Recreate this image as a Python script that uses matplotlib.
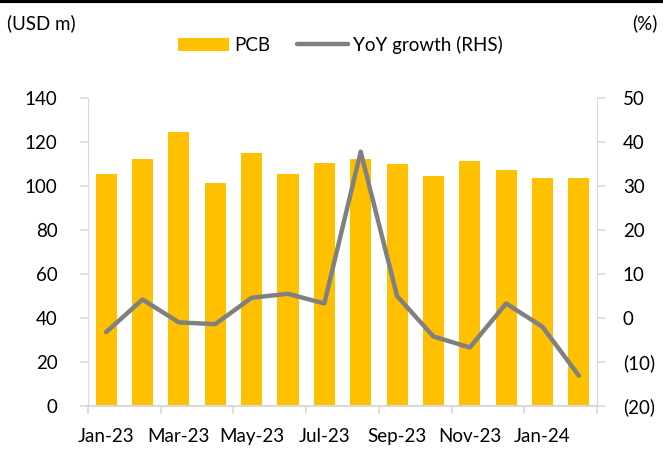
import matplotlib.pyplot as plt
from matplotlib.lines import Line2D
import numpy as np

plt.rcParams['font.family'] = ['Lato', 'DejaVu Sans']

months = ['Jan-23', 'Feb-23', 'Mar-23', 'Apr-23', 'May-23', 'Jun-23', 'Jul-23',
          'Aug-23', 'Sep-23', 'Oct-23', 'Nov-23', 'Dec-23', 'Jan-24', 'Feb-24']
pcb = [105.5, 112.3, 124.4, 101.2, 114.8, 105.5, 110.6,
       112.3, 109.8, 104.5, 111.5, 107.3, 103.6, 103.6]
yoy = [-3.2, 4.2, -1.0, -1.4, 4.6, 5.5, 3.3,
       37.8, 5.0, -4.2, -6.7, 3.3, -2.0, -13.1]
left_ticks = [0, 20, 40, 60, 80, 100, 120, 140]
right_ticks = [-20, -10, 0, 10, 20, 30, 40, 50]
right_labels = ['(20)', '(10)', '0', '10', '20', '30', '40', '50']

fs = 13.5
fig = plt.figure(figsize=(6.63, 4.5), dpi=100)
ax = fig.add_axes([0.1327, 0.0978, 0.7678, 0.6844])
ax2 = ax.twinx()

x = np.arange(len(months))
ax.bar(x, pcb, width=0.58, color='#FFC000', label='PCB', zorder=2)
ax2.plot(x, yoy, color='#808080', lw=3.2, solid_capstyle='round',
         solid_joinstyle='round', label='YoY growth (RHS)')

grid_col = '#D9D9D9'
ax.set_xlim(-0.5, len(months) - 0.5)
ax.set_ylim(0, 140)
ax2.set_ylim(-20, 50)
ax.set_yticks(left_ticks)
ax2.set_yticks(right_ticks)
ax2.set_yticklabels(right_labels)

# tick marks between every other pair of bars, labels under every other bar
ax.set_xticks(np.arange(-0.5, len(months), 2))
ax.set_xticklabels([])
ax.set_xticks(x[::2], minor=True)
ax.set_xticklabels(months[::2], minor=True)
ax.tick_params(axis='x', which='minor', length=0, pad=16, labelsize=fs)
ax.tick_params(axis='x', which='major', length=5.5, color=grid_col, width=1.2)

for a in (ax, ax2):
    for s in a.spines.values():
        s.set_visible(False)
ax.spines['left'].set_visible(True)
ax.spines['left'].set_color(grid_col)
ax.spines['bottom'].set_visible(True)
ax.spines['bottom'].set_color(grid_col)
ax.spines['bottom'].set_linewidth(1.5)
ax2.spines['right'].set_visible(True)
ax2.spines['right'].set_color(grid_col)

ax.tick_params(axis='y', length=5.5, color=grid_col, width=1.2, labelsize=fs, pad=16.5)
ax2.tick_params(axis='y', length=5.5, color=grid_col, width=1.2, labelsize=fs, pad=13)

fig.text(0.0106, 0.949, '(USD m)', fontsize=fs, va='center', ha='left')
fig.text(0.992, 0.949, '(%)', fontsize=fs, va='center', ha='right')

h1, l1 = ax.get_legend_handles_labels()
h2, l2 = ax2.get_legend_handles_labels()
fig.legend(h1 + h2, l1 + l2, loc='center', bbox_to_anchor=(0.514, 0.9),
           ncol=2, frameon=False, fontsize=fs, handlelength=2.7,
           columnspacing=1.4, handletextpad=0.3)

fig.add_artist(Line2D([0, 1], [0.997, 0.997], color='black', lw=3,
                      transform=fig.transFigure))

fig.savefig('out.png', dpi=100)
